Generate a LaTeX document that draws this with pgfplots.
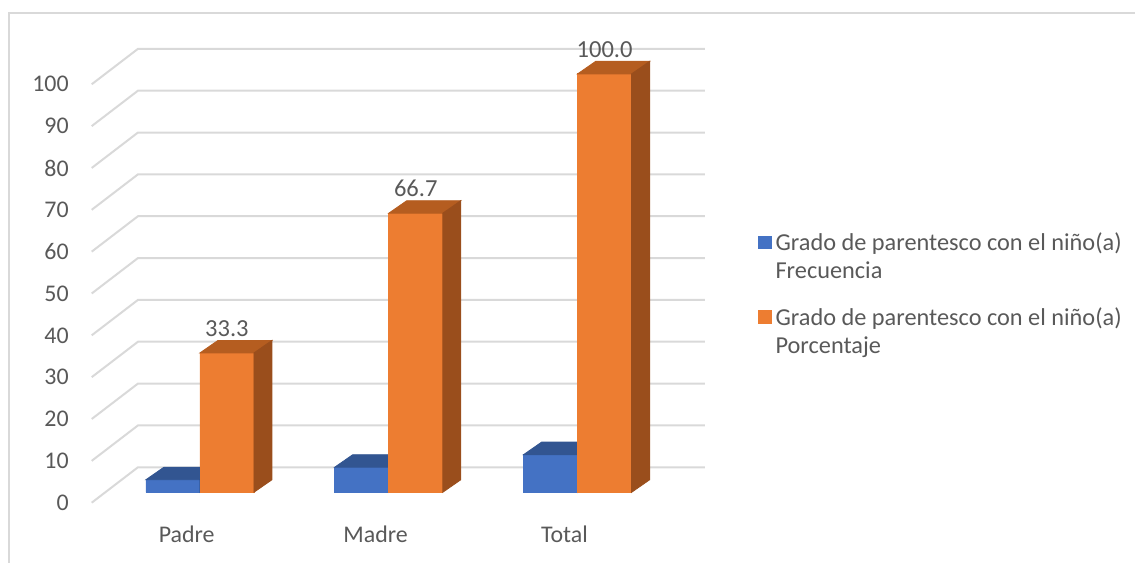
\documentclass[border=0pt]{standalone}
\usepackage{pgfplots}
\pgfplotsset{compat=1.18}
\usepackage{pgfplotstable}
\usepackage{fontspec}
\setmainfont{Carlito}

\definecolor{azulF}{HTML}{4472C4}
\definecolor{azulT}{HTML}{325591}
\definecolor{azulS}{HTML}{2B4C86}
\definecolor{naranjaF}{HTML}{ED7D31}
\definecolor{naranjaT}{HTML}{B55D20}
\definecolor{naranjaS}{HTML}{9A4E1C}
\definecolor{rejillagris}{HTML}{D9D9D9}
\definecolor{textogris}{HTML}{595959}

% frecuencia y porcentaje por parentesco
\pgfplotstableread{
x fr po
0 3 33.3
1 6 66.7
2 9 100
}\datos

% una linea de la rejilla 3D (frente, esquina, fondo)
\pgfplotstableread{
x y
-0.573 -2.49
-0.328 5.98
2.674 5.98
}\rejilla

\pgfplotsset{
  cuadro/.style={legend image code/.code={\fill[##1,/tikz/.cd,draw=none] (0bp,14.8bp) rectangle (6.7bp,21.5bp);}},
  % barra completa (frente, tapa, costado) dibujada desde la esquina superior izquierda
  caras/.style n args={3}{forget plot, only marks, mark=*, mark size=0pt, scatter,
    visualization depends on={y \as \bv},
    scatter/@pre marker code/.code={\begin{scope}
      \pgfmathsetmacro\hb{6.25-\bv*2.092}%
      \pgfmathsetmacro\hf{-\bv*2.092}%
      \fill[#3] (0bp,0bp) rectangle (27bp,\hf bp);
      \fill[#1] (0bp,0bp) -- (27bp,0bp) -- (36bp,6.25bp) -- (9bp,6.25bp) -- cycle;
      \fill[#2] (27bp,0bp) -- (36bp,6.25bp) -- (36bp,\hb bp) -- (27bp,\hf bp) -- cycle;},
    scatter/@post marker code/.code={\end{scope}}},
}

\begin{document}
\begin{tikzpicture}[x=0.5bp,y=0.5bp]
\path[use as bounding box] (0,0) rectangle (1135,563);
\draw[line width=0.75bp, rejillagris] (4.5bp,0bp) -- (4.5bp,275bp) -- (567.5bp,275bp);
\begin{axis}[
  at={(45.85bp,30.15bp)}, anchor=south west,
  scale only axis, x=94.425bp, y=2.092bp,
  xmin=-0.573, xmax=2.674, ymin=-2.49, ymax=105.98,
  clip=false,
  axis line style={draw=none},
  major tick length=0pt,
  ytick={-2.49,7.51,17.51,27.51,37.51,47.51,57.51,67.51,77.51,87.51,97.51},
  yticklabels={0,10,20,30,40,50,60,70,80,90,100},
  xtick={-0.07,0.93,1.93}, xticklabels={Padre,Madre,Total},
  /pgf/number format/assume math mode=true,
  tick label style={font=\fontsize{12}{14}\selectfont, text=textogris},
  yticklabel style={anchor=east, inner sep=0pt, xshift=-11.3bp},
  xticklabel style={anchor=base, inner sep=0pt, yshift=-19.7bp},
  legend style={at={(axis cs:2.954,63.0)}, anchor=north west, draw=none, fill=none,
    inner sep=0pt, row sep=9bp, font=\fontsize{12.2}{14}\selectfont, text=textogris,
    cells={anchor=base west, align=left},
    /tikz/every even column/.append style={column sep=3.5bp}},
]
\pgfplotsinvokeforeach{0,10,...,100}{
  \addplot[forget plot, rejillagris, line width=1bp] table[x=x, y expr=\thisrow{y}+#1]{\rejilla};
}
\addplot[ybar, bar width=0.286, bar shift=-0.143, fill=azulF, draw=none, cuadro]
  table[x=x, y=fr]{\datos};
\addlegendentry{Grado de parentesco con el niño(a)\\Frecuencia}
\addplot[ybar, bar width=0.286, bar shift=0.143, fill=naranjaF, draw=none, cuadro]
  table[x=x, y=po]{\datos};
\addlegendentry{Grado de parentesco con el niño(a)\\Porcentaje}
\addplot[caras={azulT}{azulS}{azulF}] table[x expr=\thisrow{x}-0.286, y=fr]{\datos};
\addplot[caras={naranjaT}{naranjaS}{naranjaF}] table[x=x, y=po]{\datos};
\addplot[forget plot, draw=none, mark=none, point meta=y,
  nodes near coords={\pgfmathprintnumber[fixed, fixed zerofill, precision=1]{\pgfplotspointmeta}},
  every node near coord/.append style={anchor=south, inner sep=0pt, yshift=8bp,
    font=\fontsize{12.3}{14}\selectfont, text=textogris}]
  table[x expr=\thisrow{x}+0.143, y=po]{\datos};
\end{axis}
\end{tikzpicture}
\end{document}
